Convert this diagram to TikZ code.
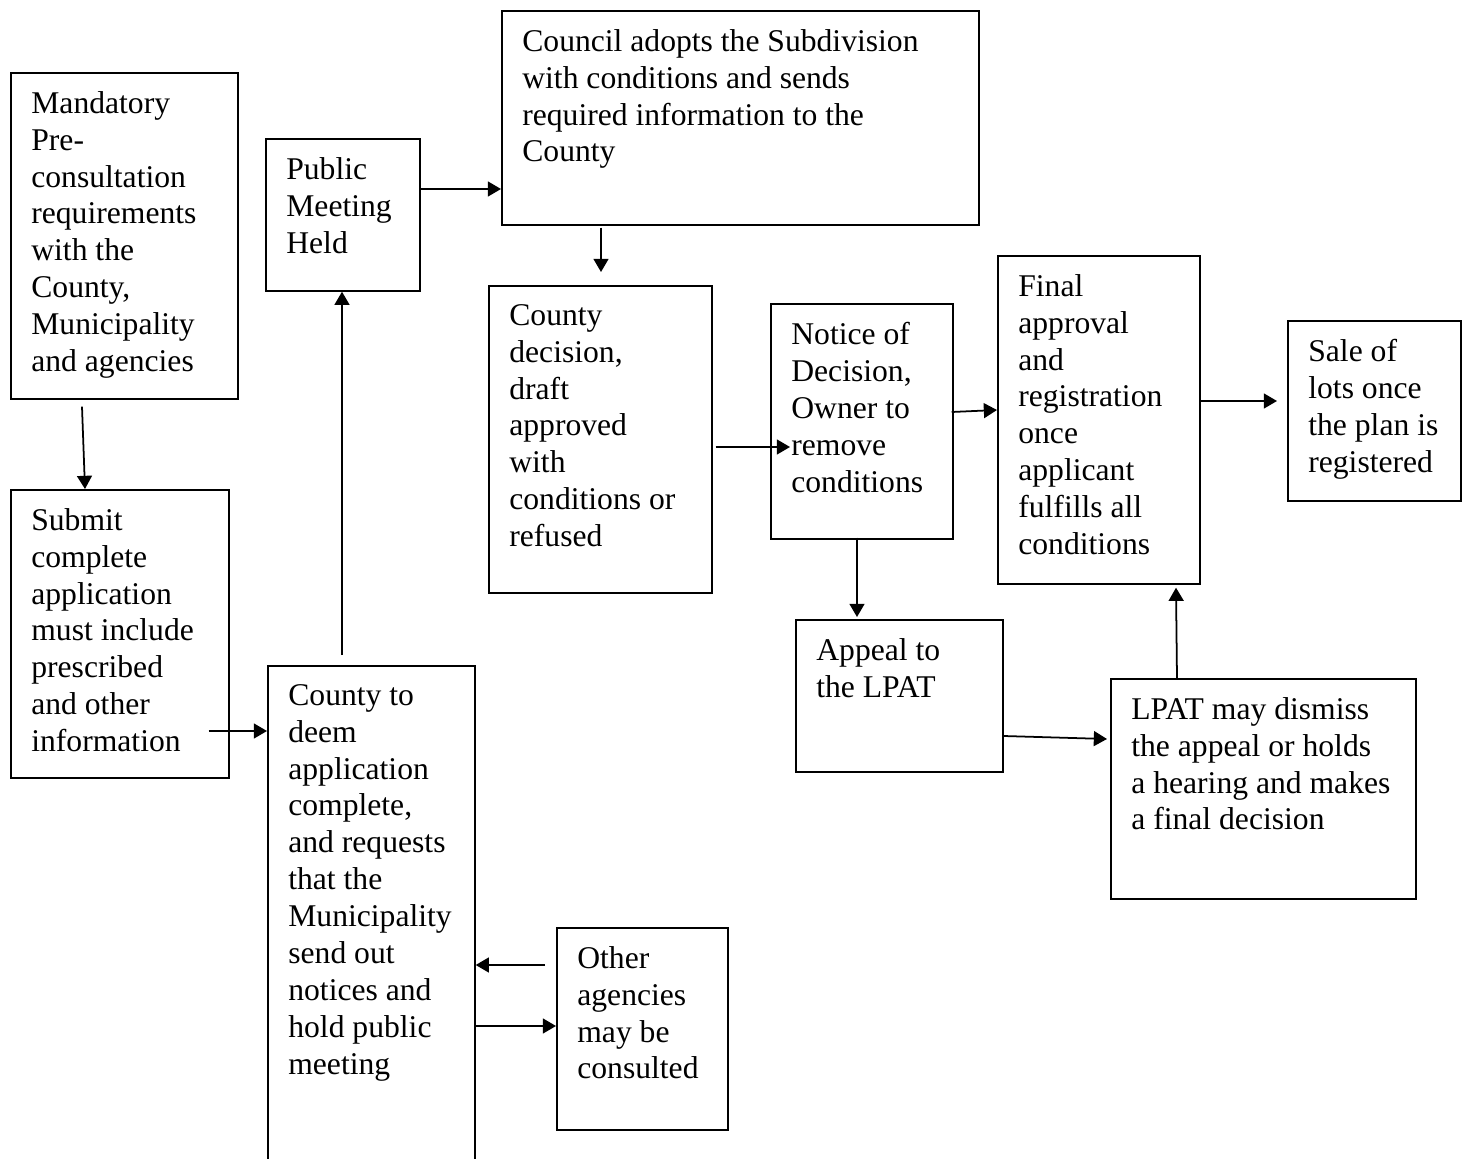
\documentclass[tikz,border=0pt]{standalone}
\usepackage{fontspec}
\setmainfont{Liberation Serif}
\usepackage{tikz}
\usetikzlibrary{arrows.meta,positioning}

\begin{document}
\begin{tikzpicture}[x=0.02cm,y=-0.02cm,
    box/.style={draw,line width=1pt,anchor=north west,inner sep=0pt},
    boxtext/.style={anchor=north west,align=left,inner sep=0pt,
                    font=\fontsize{18}{21}\selectfont},
    flow/.style={line width=1pt,-{Triangle[length=7.5pt,width=8.5pt]}}
  ]
  \clip (0,0) rectangle (1468,1159);
  \fill[white] (0,0) rectangle (1468,1159);

  % boxes
  \node[box,minimum width=4.54cm,minimum height=6.52cm] (mand) at (10,72) {};
  \node[box,minimum width=4.36cm,minimum height=5.76cm] (sub) at (10,489) {};
  \node[box,minimum width=3.08cm,minimum height=3.04cm] (pub) at (265,138) {};
  \node[box,minimum width=4.14cm,minimum height=10.4cm] (deem) at (267,665) {};
  \node[box,minimum width=9.54cm,minimum height=4.28cm] (coun) at (501,10) {};
  \node[box,minimum width=4.46cm,minimum height=6.14cm] (cdec) at (488,285) {};
  \node[box,minimum width=3.64cm,minimum height=4.70cm] (notice) at (770,303) {};
  \node[box,minimum width=4.04cm,minimum height=6.56cm] (final) at (997,255) {};
  \node[box,minimum width=3.46cm,minimum height=3.60cm] (sale) at (1287,320) {};
  \node[box,minimum width=4.14cm,minimum height=3.04cm] (appeal) at (795,619) {};
  \node[box,minimum width=6.10cm,minimum height=4.40cm] (lpat) at (1110,678) {};
  \node[box,minimum width=3.42cm,minimum height=4.04cm] (other) at (556,927) {};

  % texts
  \node[boxtext] (mandT) at ([shift={(21,19)}]mand.north west)
    {Mandatory\\Pre-\\consultation\\requirements\\with the\\County,\\Municipality\\and agencies};
  \node[boxtext] (subT) at ([shift={(21,19)}]sub.north west)
    {Submit\\complete\\application\\must include\\prescribed\\and other\\information};
  \node[boxtext] (pubT) at ([shift={(21,19)}]pub.north west)
    {Public\\Meeting\\Held};
  \node[boxtext] (deemT) at ([shift={(21,19)}]deem.north west)
    {County to\\deem\\application\\complete,\\and requests\\that the\\Municipality\\send out\\notices and\\hold public\\meeting};
  \node[boxtext] (counT) at ([shift={(21,19)}]coun.north west)
    {Council adopts the Subdivision\\with conditions and sends\\required information to the\\County};
  \node[boxtext] (cdecT) at ([shift={(21,19)}]cdec.north west)
    {County\\decision,\\draft\\approved\\with\\conditions or\\refused};
  \node[boxtext] (noticeT) at ([shift={(21,19)}]notice.north west)
    {Notice of\\Decision,\\Owner to\\remove\\conditions};
  \node[boxtext] (finalT) at ([shift={(21,19)}]final.north west)
    {Final\\approval\\and\\registration\\once\\applicant\\fulfills all\\conditions};
  \node[boxtext] (saleT) at ([shift={(21,19)}]sale.north west)
    {Sale of\\lots once\\the plan is\\registered};
  \node[boxtext] (appealT) at ([shift={(21,19)}]appeal.north west)
    {Appeal to\\the LPAT};
  \node[boxtext] (lpatT) at ([shift={(21,19)}]lpat.north west)
    {LPAT may dismiss\\the appeal or holds\\a hearing and makes\\a final decision};
  \node[boxtext] (otherT) at ([shift={(21,19)}]other.north west)
    {Other\\agencies\\may be\\consulted};

  % connectors
  \draw[flow] ([shift={(72,7)}]mand.south west) -- ([shift={(75,0)}]sub.north west);
  \draw[flow] ([shift={(-21,242)}]sub.north east) -- ([shift={(0,66)}]deem.north west);
  \draw[flow] ([shift={(75,-10)}]deem.north west) -- ([shift={(77,0)}]pub.south west);
  \draw[flow] ([shift={(0,51)}]pub.north east) -- ([shift={(0,179)}]coun.north west);
  \draw[flow] ([shift={(100,2)}]coun.south west) -- ([shift={(113,-13)}]cdec.north west);
  \draw[flow] ([shift={(3,162)}]cdec.north east) -- ([shift={(20,144)}]notice.north west);
  \draw[flow] ([shift={(-2,109)}]notice.north east) -- ([shift={(0,155)}]final.north west);
  \draw[flow] ([shift={(0,146)}]final.north east) -- ([shift={(-10,81)}]sale.north west);
  \draw[flow] ([shift={(87,-2)}]notice.south west) -- ([shift={(62,-2)}]appeal.north west);
  \draw[flow] ([shift={(0,117)}]appeal.north east) -- ([shift={(-3,61)}]lpat.north west);
  \draw[flow] ([shift={(67,0)}]lpat.north west) -- ([shift={(179,3)}]final.south west);
  \draw[flow] ([shift={(-11,38)}]other.north west) -- ([shift={(0,300)}]deem.north east);
  \draw[flow] ([shift={(0,361)}]deem.north east) -- ([shift={(0,99)}]other.north west);
\end{tikzpicture}
\end{document}
